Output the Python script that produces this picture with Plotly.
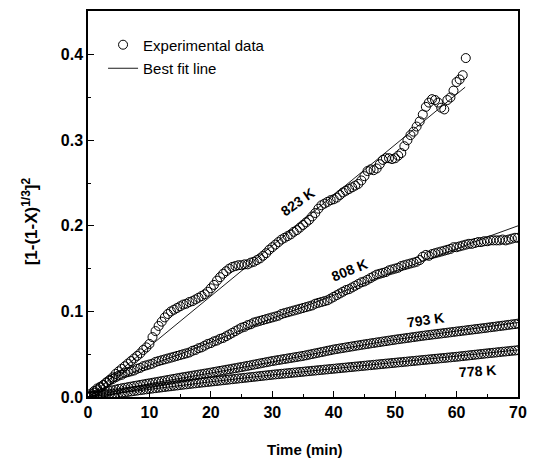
import plotly.graph_objects as go

# ---------------- data ----------------
T_STEP = 0.5  # sampling interval of the experimental points (min)

y823 = [0.000, 0.002, 0.005, 0.008, 0.011, 0.014, 0.017, 0.020, 0.023, 0.027,
        0.030, 0.033, 0.036, 0.039, 0.042, 0.045, 0.048, 0.051, 0.055, 0.058,
        0.062, 0.070, 0.077, 0.083, 0.088, 0.093, 0.097, 0.100, 0.102, 0.104,
        0.106, 0.108, 0.109, 0.111, 0.112, 0.114, 0.116, 0.118, 0.120, 0.123,
        0.127, 0.131, 0.136, 0.140, 0.144, 0.147, 0.150, 0.152, 0.153, 0.154,
        0.154, 0.155, 0.155, 0.157, 0.158, 0.160, 0.162, 0.165, 0.168, 0.172,
        0.175, 0.178, 0.181, 0.184, 0.186, 0.188, 0.190, 0.193, 0.195, 0.198,
        0.201, 0.204, 0.207, 0.211, 0.215, 0.220, 0.224, 0.226, 0.228, 0.230,
        0.231, 0.233, 0.236, 0.239, 0.241, 0.243, 0.245, 0.247, 0.249, 0.253,
        0.258, 0.264, 0.266, 0.265, 0.267, 0.272, 0.277, 0.279, 0.279, 0.278,
        0.279, 0.282, 0.285, 0.293, 0.300, 0.306, 0.310, 0.316, 0.322, 0.330,
        0.339, 0.344, 0.348, 0.347, 0.344, 0.338, 0.336, 0.347, 0.350, 0.358,
        0.368, 0.371, 0.376, 0.396]

y808 = [0.000, 0.004, 0.007, 0.010, 0.012, 0.014, 0.017, 0.019, 0.021, 0.023,
        0.025, 0.026, 0.028, 0.029, 0.030, 0.031, 0.033, 0.034, 0.036, 0.037,
        0.038, 0.039, 0.041, 0.042, 0.043, 0.044, 0.045, 0.046, 0.047, 0.048,
        0.049, 0.050, 0.051, 0.052, 0.054, 0.055, 0.057, 0.058, 0.060, 0.062,
        0.063, 0.065, 0.066, 0.068, 0.069, 0.071, 0.073, 0.075, 0.077, 0.079,
        0.081, 0.082, 0.084, 0.085, 0.087, 0.088, 0.089, 0.090, 0.091, 0.092,
        0.093, 0.094, 0.095, 0.097, 0.098, 0.099, 0.100, 0.101, 0.102, 0.103,
        0.104, 0.105, 0.106, 0.107, 0.109, 0.110, 0.111, 0.112, 0.113, 0.115,
        0.117, 0.119, 0.121, 0.123, 0.125, 0.126, 0.128, 0.130, 0.132, 0.134,
        0.135, 0.137, 0.139, 0.141, 0.143, 0.144, 0.145, 0.146, 0.148, 0.149,
        0.150, 0.151, 0.153, 0.154, 0.155, 0.156, 0.157, 0.158, 0.160, 0.164,
        0.166, 0.165, 0.167, 0.168, 0.169, 0.170, 0.171, 0.172, 0.173, 0.175,
        0.175, 0.176, 0.177, 0.178, 0.179, 0.179, 0.180, 0.181, 0.181, 0.182,
        0.182, 0.183, 0.183, 0.183, 0.183, 0.184, 0.183, 0.184, 0.185, 0.186,
        0.186]

y793 = [0.0000, 0.0010, 0.0020, 0.0030, 0.0040, 0.0050, 0.0060, 0.0070, 0.0078, 0.0086,
        0.0095, 0.0102, 0.0108, 0.0115, 0.0121, 0.0128, 0.0134, 0.0141, 0.0147, 0.0154,
        0.0160, 0.0166, 0.0173, 0.0179, 0.0186, 0.0192, 0.0199, 0.0205, 0.0212, 0.0218,
        0.0225, 0.0231, 0.0237, 0.0243, 0.0249, 0.0255, 0.0261, 0.0267, 0.0273, 0.0279,
        0.0285, 0.0292, 0.0298, 0.0305, 0.0311, 0.0318, 0.0324, 0.0331, 0.0337, 0.0344,
        0.0350, 0.0357, 0.0364, 0.0371, 0.0378, 0.0385, 0.0392, 0.0399, 0.0406, 0.0413,
        0.0420, 0.0426, 0.0432, 0.0438, 0.0444, 0.0450, 0.0456, 0.0462, 0.0468, 0.0474,
        0.0480, 0.0487, 0.0495, 0.0502, 0.0510, 0.0517, 0.0525, 0.0532, 0.0540, 0.0547,
        0.0555, 0.0561, 0.0567, 0.0573, 0.0579, 0.0585, 0.0591, 0.0597, 0.0603, 0.0609,
        0.0615, 0.0620, 0.0626, 0.0631, 0.0637, 0.0642, 0.0648, 0.0653, 0.0659, 0.0664,
        0.0670, 0.0675, 0.0680, 0.0685, 0.0690, 0.0695, 0.0700, 0.0705, 0.0710, 0.0715,
        0.0720, 0.0724, 0.0729, 0.0733, 0.0738, 0.0742, 0.0747, 0.0751, 0.0756, 0.0760,
        0.0765, 0.0769, 0.0774, 0.0778, 0.0783, 0.0787, 0.0792, 0.0796, 0.0801, 0.0805,
        0.0810, 0.0815, 0.0819, 0.0824, 0.0829, 0.0833, 0.0838, 0.0843, 0.0848, 0.0852,
        0.0857]

y778 = [0.0000, 0.0005, 0.0010, 0.0015, 0.0020, 0.0025, 0.0029, 0.0033, 0.0037, 0.0041,
        0.0045, 0.0050, 0.0055, 0.0060, 0.0065, 0.0070, 0.0075, 0.0080, 0.0085, 0.0090,
        0.0095, 0.0099, 0.0104, 0.0108, 0.0113, 0.0117, 0.0122, 0.0126, 0.0131, 0.0135,
        0.0140, 0.0144, 0.0148, 0.0152, 0.0156, 0.0160, 0.0164, 0.0168, 0.0172, 0.0176,
        0.0180, 0.0184, 0.0188, 0.0192, 0.0196, 0.0200, 0.0204, 0.0208, 0.0212, 0.0216,
        0.0220, 0.0224, 0.0228, 0.0232, 0.0236, 0.0240, 0.0244, 0.0248, 0.0252, 0.0256,
        0.0260, 0.0264, 0.0267, 0.0271, 0.0274, 0.0278, 0.0281, 0.0285, 0.0288, 0.0292,
        0.0295, 0.0299, 0.0302, 0.0306, 0.0309, 0.0313, 0.0316, 0.0320, 0.0323, 0.0327,
        0.0330, 0.0334, 0.0337, 0.0341, 0.0344, 0.0348, 0.0351, 0.0355, 0.0358, 0.0362,
        0.0365, 0.0369, 0.0372, 0.0376, 0.0379, 0.0383, 0.0386, 0.0390, 0.0393, 0.0397,
        0.0400, 0.0404, 0.0407, 0.0411, 0.0414, 0.0418, 0.0421, 0.0425, 0.0428, 0.0432,
        0.0435, 0.0439, 0.0442, 0.0446, 0.0449, 0.0453, 0.0456, 0.0460, 0.0463, 0.0467,
        0.0470, 0.0474, 0.0478, 0.0482, 0.0486, 0.0490, 0.0494, 0.0498, 0.0502, 0.0506,
        0.0510, 0.0514, 0.0517, 0.0521, 0.0525, 0.0529, 0.0532, 0.0536, 0.0540, 0.0543,
        0.0547]

# best-fit lines
fit823_t = [0, 61.4]
fit823_y = [0.0, 0.362]
fit808_t = [0, 5, 10, 15, 20, 25, 30, 35, 40, 45, 50, 55, 60, 65, 70]
fit808_y = [0.0, 0.021, 0.037, 0.050, 0.064, 0.078, 0.092, 0.105, 0.119, 0.133,
            0.147, 0.160, 0.173, 0.187, 0.200]
fit793_t = [0, 10, 20, 30, 40, 50, 60, 70]
fit793_y = [0.0, 0.0155, 0.028, 0.041, 0.055, 0.067, 0.077, 0.087]
fit778_t = [0, 10, 20, 30, 40, 50, 60, 70]
fit778_y = [0.0, 0.009, 0.0178, 0.0258, 0.033, 0.040, 0.047, 0.055]

# curve labels: (text, t, y, angle)
labels = [("823 K", 34.1, 0.228, -35),
          ("808 K", 42.6, 0.148, -22),
          ("793 K", 54.9, 0.0895, -8),
          ("778 K", 63.4, 0.030, -4)]

x_ticks = [0, 10, 20, 30, 40, 50, 60, 70]
y_ticks = [0.0, 0.1, 0.2, 0.3, 0.4]

# ---------------- figure ----------------
FONT = "Liberation Sans, Arial, sans-serif"


def times(vals):
    return [i * T_STEP for i in range(len(vals))]


fig = go.Figure()

marker = dict(symbol="circle-open", size=9, color="black", line=dict(width=1, color="black"))
line_style = dict(color="black", width=0.9)

series = [(y823, fit823_t, fit823_y), (y808, fit808_t, fit808_y),
          (y793, fit793_t, fit793_y), (y778, fit778_t, fit778_y)]

for i, (ys, ft, fy) in enumerate(series):
    fig.add_trace(go.Scatter(x=ft, y=fy, mode="lines", line=line_style,
                             name="Best fit line", showlegend=(i == 0),
                             legend="legend2", hoverinfo="skip"))
for i, (ys, ft, fy) in enumerate(series):
    fig.add_trace(go.Scatter(x=times(ys), y=ys, mode="markers", marker=marker,
                             name="Experimental data", showlegend=(i == 0),
                             legend="legend"))

for text, tx, ty, ang in labels:
    fig.add_annotation(x=tx, y=ty, text=text, showarrow=False, textangle=ang,
                       font=dict(family=FONT, size=14, color="black", weight="bold"))

# axis titles
fig.add_annotation(xref="paper", yref="paper", x=-0.135, y=0.455,
                   xanchor="center", yanchor="middle",
                   text="[1-(1-X)<sup>1/3</sup>]<sup>2</sup>", textangle=-90,
                   showarrow=False,
                   font=dict(family=FONT, size=17, color="black", weight="bold"))
fig.add_annotation(xref="paper", yref="paper", x=0.505, y=-0.137,
                   xanchor="center", yanchor="middle",
                   text="Time (min)", showarrow=False,
                   font=dict(family=FONT, size=15, color="black", weight="bold"))

axis_common = dict(showgrid=False, zeroline=False, showline=True, linecolor="black",
                   linewidth=1.5, mirror=True, ticks="inside", ticklen=6, tickwidth=1.2,
                   tickcolor="black",
                   tickfont=dict(family=FONT, size=16, color="black", weight="bold"))

fig.update_xaxes(range=[0, 70], tickvals=x_ticks, ticktext=[str(v) for v in x_ticks],
                 minor=dict(dtick=5, tick0=0, ticks="inside", ticklen=3, tickcolor="black"),
                 **axis_common)
fig.update_yaxes(range=[0, 0.451], tickvals=y_ticks, ticktext=[f"{v:.1f}" for v in y_ticks],
                 minor=dict(dtick=0.05, tick0=0, ticks="inside", ticklen=3, tickcolor="black"),
                 **axis_common)

leg_font = dict(family=FONT, size=15, color="black")
# the page adds an 8 px body margin, so the figure is sized/margined to compensate
fig.update_layout(
    width=532, height=456,
    margin=dict(l=80, r=22, t=1, b=67),
    paper_bgcolor="white", plot_bgcolor="white",
    legend=dict(x=0.035, y=0.912, xanchor="left", yanchor="middle", font=leg_font,
                bgcolor="rgba(0,0,0,0)", itemwidth=30),
    legend2=dict(x=0.035, y=0.851, xanchor="left", yanchor="middle", font=leg_font,
                 bgcolor="rgba(0,0,0,0)", itemwidth=30),
)

fig.write_html("out.html")
